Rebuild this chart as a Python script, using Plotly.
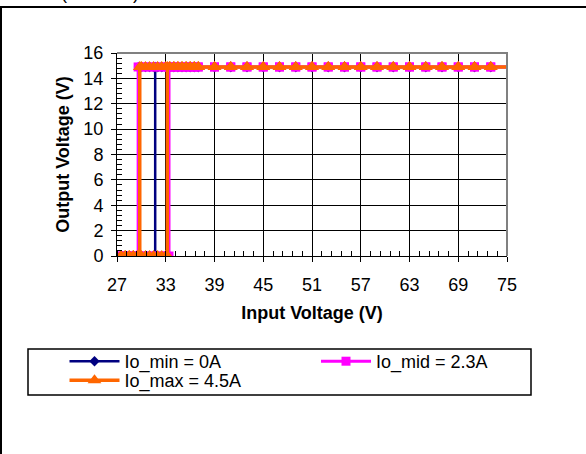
import plotly.graph_objects as go

# measured sweeps: input voltage up to 76 V then back down, output voltage (V)
vin_min = [26, 27.5, 28, 28.5, 29, 29.5, 30, 30.5, 31, 31.5, 31.7, 31.7, 32, 32.5, 33, 33.5,
           34, 34.5, 35, 35.5, 36, 36.5, 37, 39, 41, 43, 45, 47, 49, 51, 53, 55, 57, 59, 61,
           63, 65, 67, 69, 71, 73, 76,
           73, 71, 69, 67, 65, 63, 61, 59, 57, 55, 53, 51, 49, 47, 45, 43, 41, 39, 37, 36.5,
           36, 35.5, 35, 34.5, 34, 33.5, 33, 32.5, 32, 31.5, 31, 30.5, 30, 29.7, 29.7, 29.5,
           29, 28.5, 28, 27.5, 26]
vout_min = [0.0] * 11 + [14.9] * 31 + [14.9] * 34 + [0.0] * 7

vin_mid = [26, 27.5, 28, 28.5, 29, 29.5, 30, 30.5, 31, 31.5, 32, 32.5, 33, 33.4, 33.4, 33.5,
           34, 34.5, 35, 35.5, 36, 36.5, 37, 39, 41, 43, 45, 47, 49, 51, 53, 55, 57, 59, 61,
           63, 65, 67, 69, 71, 73, 76,
           73, 71, 69, 67, 65, 63, 61, 59, 57, 55, 53, 51, 49, 47, 45, 43, 41, 39, 37, 36.5,
           36, 35.5, 35, 34.5, 34, 33.5, 33, 32.5, 32, 31.5, 31, 30.5, 30, 29.6, 29.6, 29.5,
           29, 28.5, 28, 27.5, 26]
vout_mid = [0.0] * 14 + [14.9] * 28 + [14.9] * 34 + [0.0] * 7

vin_max = [26, 27.5, 28, 28.5, 29, 29.5, 30, 30.5, 31, 31.5, 32, 32.5, 33, 33.2, 33.2, 33.5,
           34, 34.5, 35, 35.5, 36, 36.5, 37, 39, 41, 43, 45, 47, 49, 51, 53, 55, 57, 59, 61,
           63, 65, 67, 69, 71, 73, 76,
           73, 71, 69, 67, 65, 63, 61, 59, 57, 55, 53, 51, 49, 47, 45, 43, 41, 39, 37, 36.5,
           36, 35.5, 35, 34.5, 34, 33.5, 33, 32.5, 32, 31.5, 31, 30.5, 30, 29.8, 29.8, 29.5,
           29, 28.5, 28, 27.5, 26]
vout_max = [0.0] * 14 + [14.9] * 28 + [14.9] * 34 + [0.0] * 7

x_ticks = [27, 33, 39, 45, 51, 57, 63, 69, 75]
y_ticks = [0, 2, 4, 6, 8, 10, 12, 14, 16]

FONT = 'Liberation Sans, Arial, sans-serif'
FS = 18

# pixel -> paper helpers (plot area is 117..507 x 53..256)
def px(x):
    return (x - 117) / 390.0

def py(y):
    return (256 - y) / 203.0

fig = go.Figure()

fig.add_trace(go.Scatter(
    x=vin_min, y=vout_min, mode='lines+markers', name='Io_min = 0A',
    line=dict(color='#000080', width=2.5),
    marker=dict(symbol='diamond', size=8, color='#000080'),
    legend='legend',
))
fig.add_trace(go.Scatter(
    x=vin_mid, y=vout_mid, mode='lines+markers', name='Io_mid = 2.3A',
    line=dict(color='#FF00FF', width=3),
    marker=dict(symbol='square', size=9, color='#FF00FF'),
    legend='legend2',
))
fig.add_trace(go.Scatter(
    x=vin_max, y=vout_max, mode='lines+markers', name='Io_max = 4.5A',
    line=dict(color='#FF6600', width=3.5),
    marker=dict(symbol='triangle-up', size=12, color='#FF6600'),
    legend='legend3',
))

# outer chart frame (runs off the right and bottom of the view)
fig.add_shape(type='rect', xref='paper', yref='paper',
              x0=px(1), x1=px(600), y0=py(470), y1=py(7),
              line=dict(color='black', width=2), layer='below')
# legend box
fig.add_shape(type='rect', xref='paper', yref='paper',
              x0=px(28), x1=px(531), y0=py(395), y1=py(349),
              line=dict(color='black', width=1.5), layer='below')
# gray plot border on top and right
fig.add_shape(type='path', xref='paper', yref='paper',
              path='M 0 1 L 1 1 L 1 0',
              line=dict(color='#808080', width=2))

# clipped caption above the frame
fig.add_annotation(text='(Zoom In)', xref='paper', yref='paper',
                   x=px(100), y=py(5), xanchor='center', yanchor='bottom',
                   showarrow=False, font=dict(family=FONT, size=FS, color='black'))

leg = dict(xanchor='left', yanchor='top', itemwidth=50,
           font=dict(family=FONT, size=FS, color='black'),
           bgcolor='rgba(0,0,0,0)')

fig.update_layout(
    width=586, height=454,
    margin=dict(l=117, r=79, t=53, b=198),
    paper_bgcolor='white',
    plot_bgcolor='white',
    font=dict(family=FONT, size=FS, color='black'),
    showlegend=True,
    legend=dict(leg, x=px(64.5), y=py(343)),
    legend2=dict(leg, x=px(316), y=py(343)),
    legend3=dict(leg, x=px(64.5), y=py(362)),
    xaxis=dict(
        range=[27, 75], tickvals=x_ticks, ticktext=[str(v) for v in x_ticks],
        showgrid=True, gridcolor='black', gridwidth=1,
        showline=True, linecolor='black', linewidth=1,
        ticks='outside', ticklen=5, tickcolor='black', ticklabelstandoff=7,
        minor=dict(dtick=1.2, tick0=27, ticks='inside', ticklen=5, tickcolor='black', showgrid=False),
        zeroline=False,
        title=dict(text='<b>Input Voltage (V)</b>', font=dict(family=FONT, size=FS), standoff=12),
    ),
    yaxis=dict(
        range=[0, 16], tickvals=y_ticks, ticktext=[str(v) for v in y_ticks],
        showgrid=True, gridcolor='black', gridwidth=1,
        showline=True, linecolor='black', linewidth=1,
        ticks='outside', ticklen=5, tickcolor='black', ticklabelstandoff=4,
        minor=dict(dtick=0.4, tick0=0, ticks='inside', ticklen=5, tickcolor='black', showgrid=False),
        zeroline=False,
        title=dict(text='<b>Output Voltage (V)</b>', font=dict(family=FONT, size=FS), standoff=9),
    ),
)

fig.write_html("out.html", config={'displayModeBar': False},
               post_script="document.body.style.margin='0';")
